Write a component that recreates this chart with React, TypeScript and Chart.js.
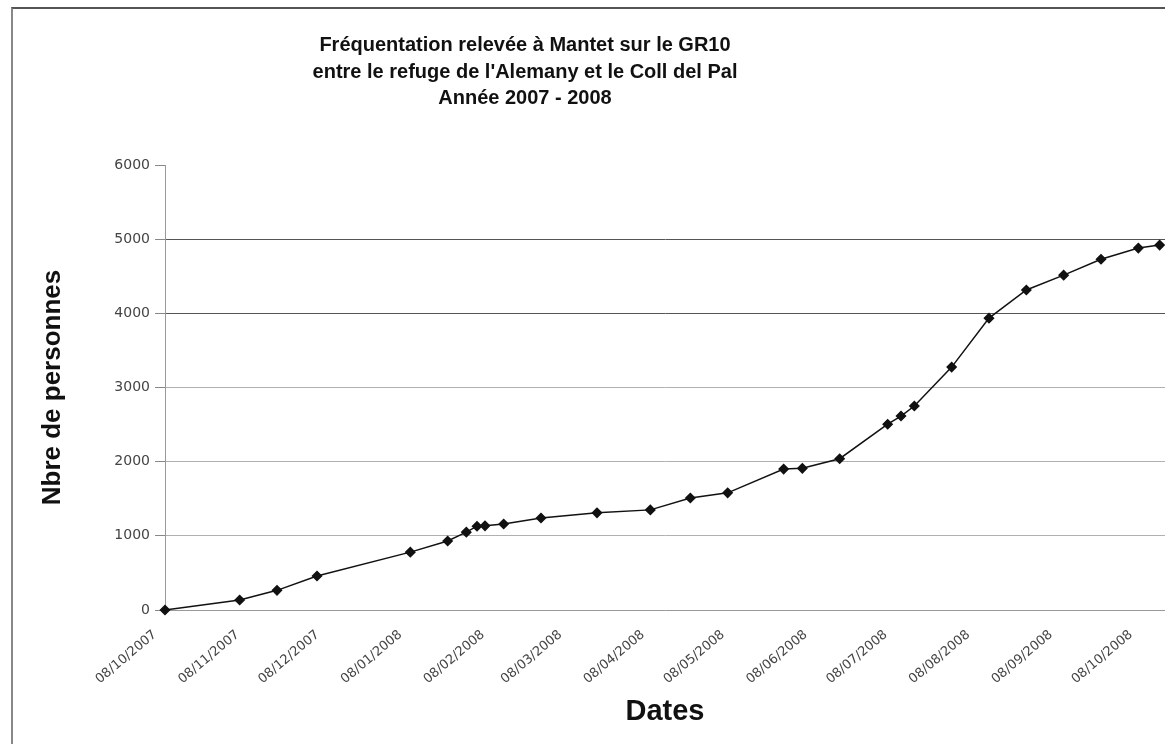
import React, { useEffect, useRef } from "react";
import { Chart, registerables } from "chart.js";

Chart.register(...registerables);

const startDate = "2007-10-08";

const surveyDates = [
  "2007-10-08", "2007-11-05", "2007-11-19", "2007-12-04", "2008-01-08",
  "2008-01-22", "2008-01-29", "2008-02-02", "2008-02-05", "2008-02-12",
  "2008-02-26", "2008-03-18", "2008-04-07", "2008-04-22", "2008-05-06",
  "2008-05-27", "2008-06-03", "2008-06-17", "2008-07-05", "2008-07-10",
  "2008-07-15", "2008-07-29", "2008-08-12", "2008-08-26", "2008-09-09",
  "2008-09-23", "2008-10-07", "2008-10-15",
];

const visitors = [
  0, 135, 265, 458, 780,
  930, 1050, 1130, 1135, 1160,
  1240, 1310, 1350, 1510, 1580,
  1900, 1910, 2040, 2505, 2615,
  2750, 3275, 3935, 4315, 4515,
  4730, 4880, 4920,
];

const tickDates = [
  "2007-10-08", "2007-11-08", "2007-12-08", "2008-01-08", "2008-02-08",
  "2008-03-08", "2008-04-08", "2008-05-08", "2008-06-08", "2008-07-08",
  "2008-08-08", "2008-09-08", "2008-10-08",
];

const titleLines = [
  "Fréquentation relevée à Mantet sur le GR10",
  "entre le refuge de l'Alemany et le Coll del Pal",
  "Année 2007 - 2008",
];

const xTitle = "Dates";
const yTitle = "Nbre de personnes";

function toUTC(s: string): number {
  const [y, m, d] = s.split("-").map(Number);
  return Date.UTC(y, m - 1, d);
}
const DAY = 86400000;
function dayOffset(s: string): number {
  return Math.round((toUTC(s) - toUTC(startDate)) / DAY);
}
function formatDay(v: number): string {
  const d = new Date(toUTC(startDate) + v * DAY);
  const dd = String(d.getUTCDate()).padStart(2, "0");
  const mm = String(d.getUTCMonth() + 1).padStart(2, "0");
  return `${dd}/${mm}/${d.getUTCFullYear()}`;
}

const titlePlugin = {
  id: "multiTitle",
  afterDraw(chart: any) {
    const ctx = chart.ctx;
    ctx.save();
    ctx.fillStyle = "#111";
    ctx.font = "bold 20px 'Liberation Sans', Arial, sans-serif";
    ctx.textAlign = "center";
    ctx.textBaseline = "middle";
    const ys = [45, 72, 98];
    titleLines.forEach((t, i) => ctx.fillText(t, 525, ys[i]));
    ctx.restore();
  },
};

export default function App() {
  const ref = useRef<HTMLCanvasElement | null>(null);

  useEffect(() => {
    if (!ref.current) return;
    const points = surveyDates.map((d, i) => ({ x: dayOffset(d), y: visitors[i] }));
    const chart = new Chart(ref.current, {
      type: "line",
      data: {
        datasets: [
          {
            data: points,
            borderColor: "#111",
            borderWidth: 1.5,
            pointStyle: "rectRot",
            pointRadius: 4.5,
            pointBackgroundColor: "#111",
            pointBorderColor: "#111",
            tension: 0,
            clip: false as any,
          },
        ],
      },
      options: {
        animation: false,
        responsive: false,
        layout: { padding: { top: 165, left: 0, right: 0, bottom: 0 } },
        plugins: {
          legend: { display: false },
          tooltip: { enabled: false },
        },
        scales: {
          x: {
            type: "linear",
            min: 0,
            max: 375,
            afterBuildTicks(scale: any) {
              scale.ticks = tickDates.map((d) => ({ value: dayOffset(d) }));
            },
            afterFit(scale: any) {
              scale.height = 134;
              scale.paddingLeft = 0;
              scale.paddingRight = 0;
            },
            ticks: {
              autoSkip: false,
              minRotation: 40,
              maxRotation: 40,
              padding: 17,
              labelOffset: -10,
              color: "#444",
              font: { family: "'DejaVu Sans', sans-serif", size: 13 },
              callback: (v: any) => formatDay(Number(v)),
            },
            grid: { display: false, drawTicks: false },
            border: { display: true, color: "#999", width: 1 },
            title: {
              display: true,
              text: xTitle,
              color: "#111",
              font: { family: "'Liberation Sans', Arial, sans-serif", size: 29, weight: "bold" },
              padding: { top: 0, bottom: 15 },
            },
          },
          y: {
            min: 0,
            max: 6000,
            afterFit(scale: any) {
              scale.width = 165;
              scale.paddingTop = 0;
              scale.paddingBottom = 0;
            },
            ticks: {
              stepSize: 1000,
              padding: 5,
              color: "#444",
              font: { family: "'DejaVu Sans', sans-serif", size: 14 },
              callback: (v: any) => String(v),
            },
            grid: {
              color: (ctx: any) => {
                const v = ctx.tick ? ctx.tick.value : 0;
                if (v === 0 || v === 6000) return "rgba(0,0,0,0)";
                if (v === 4000 || v === 5000) return "#555";
                return "#b0b0b0";
              },
              tickColor: "#888",
              tickLength: 10,
              lineWidth: 1,
            },
            border: { display: true, color: "#999", width: 1 },
            title: {
              display: true,
              text: yTitle,
              color: "#111",
              font: { family: "'Liberation Sans', Arial, sans-serif", size: 26, weight: "bold" },
              padding: { top: 37, bottom: 0 },
            },
          },
        },
      } as any,
      plugins: [titlePlugin],
    });
    return () => chart.destroy();
  }, []);

  return (
    <div
      style={{
        position: "absolute",
        left: 0,
        top: 0,
        width: 1165,
        height: 744,
        overflow: "hidden",
        background: "#fff",
      }}
    >
      <div
        style={{
          position: "absolute",
          left: 11,
          top: 7,
          width: 1300,
          height: 900,
          borderLeft: "2px solid #888",
          borderTop: "2px solid #555",
        }}
      />
      <canvas
        ref={ref}
        width={1171}
        height={744}
        style={{ position: "absolute", left: 0, top: 0, width: 1171, height: 744 }}
      />
    </div>
  );
}
